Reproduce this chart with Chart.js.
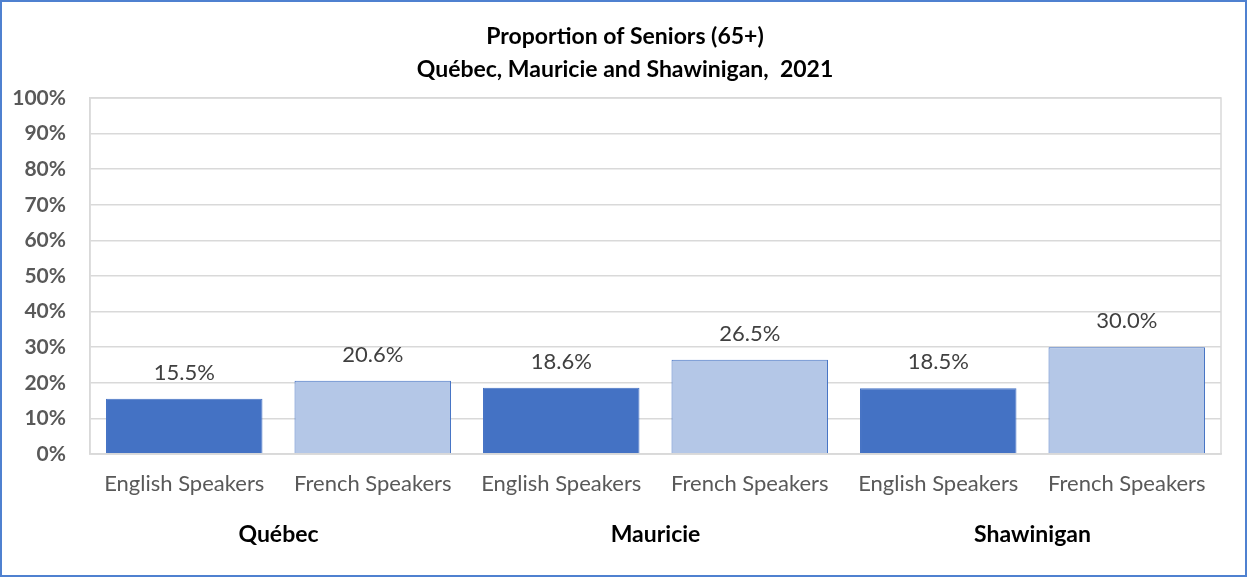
<!DOCTYPE html>
<html><head><meta charset="utf-8">
<script src="https://cdn.jsdelivr.net/npm/chart.js@4/dist/chart.umd.min.js"></script>
<style>html,body{margin:0;padding:0;background:#fff;}#wrap{width:1247px;height:577px;position:relative;}</style>
</head><body><div id="wrap"><canvas id="c" width="1247" height="577"></canvas></div>
<script>
const titleLines = ['Proportion of Seniors (65+)', 'Québec, Mauricie and Shawinigan,  2021'];
const regions = ['Québec', 'Mauricie', 'Shawinigan'];
const speakers = ['English Speakers', 'French Speakers'];
const englishValues = [15.5, 18.6, 18.5];
const frenchValues = [20.6, 26.5, 30.0];
const yTicks = [0,10,20,30,40,50,60,70,80,90,100];

const FONT = 'Lato, "Liberation Sans", sans-serif';
const labels = [], values = [], colors = [];
regions.forEach((r, i) => {
  labels.push(speakers[0]); values.push(englishValues[i]); colors.push('#4472C4');
  labels.push(speakers[1]); values.push(frenchValues[i]); colors.push('#B4C7E7');
});

const decor = {
  id: 'decor',
  beforeDraw(chart) {
    const ctx = chart.ctx;
    ctx.save(); ctx.fillStyle = '#fff'; ctx.fillRect(0,0,chart.width,chart.height); ctx.restore();
  },
  afterDraw(chart) {
    const ctx = chart.ctx, a = chart.chartArea, x = chart.scales.x;
    ctx.save();
    ctx.strokeStyle = '#d9d9d9'; ctx.lineWidth = 1.5;
    ctx.strokeRect(a.left, a.top, a.right - a.left, a.bottom - a.top);
    ctx.fillStyle = '#000'; ctx.font = 'bold 23px ' + FONT; ctx.textAlign = 'center'; ctx.textBaseline = 'middle';
    ctx.fillText(titleLines[0], 625, 37);
    ctx.fillText(titleLines[1], 625, 70);
    ctx.font = 'bold 23px ' + FONT;
    regions.forEach((r, i) => {
      const cx = (x.getPixelForValue(2*i) + x.getPixelForValue(2*i+1)) / 2;
      ctx.fillText(r, cx, 535);
    });
    const meta = chart.getDatasetMeta(0);
    ctx.fillStyle = '#404040'; ctx.font = '22px ' + FONT;
    meta.data.forEach((bar, i) => {
      ctx.fillText(values[i].toFixed(1) + '%', bar.x, bar.y - 26);
    });
    ctx.strokeStyle = '#4F81D0'; ctx.lineWidth = 2;
    ctx.strokeRect(1, 1, chart.width - 2, chart.height - 2);
    ctx.restore();
  }
};

new Chart(document.getElementById('c'), {
  type: 'bar',
  data: { labels, datasets: [{ data: values, backgroundColor: colors, borderColor: '#4472C4', borderWidth: 1, barPercentage: 0.83, categoryPercentage: 1.0 }] },
  options: {
    responsive: false, animation: false,
    layout: { padding: { top: 98, right: 26, left: 0, bottom: 0 } },
    plugins: { legend: { display: false }, tooltip: { enabled: false }, title: { display: false } },
    scales: {
      x: {
        grid: { display: false, drawTicks: false },
        border: { color: '#d9d9d9', width: 1.5 },
        ticks: { color: '#595959', font: { family: FONT, size: 22 }, padding: 17, maxRotation: 0, autoSkip: false },
        afterFit(s) { s.height = 123; }
      },
      y: {
        min: 0, max: 100,
        afterBuildTicks(s) { s.ticks = yTicks.map(v => ({ value: v })); },
        grid: { color: '#d9d9d9', lineWidth: 1.5, drawTicks: false },
        border: { color: '#d9d9d9', width: 1.5 },
        ticks: { color: '#595959', font: { family: FONT, size: 21, weight: 'bold' }, padding: 24, callback: v => v + '%' },
        afterFit(s) { s.width = 90; }
      }
    }
  },
  plugins: [decor]
});
</script></body></html>
